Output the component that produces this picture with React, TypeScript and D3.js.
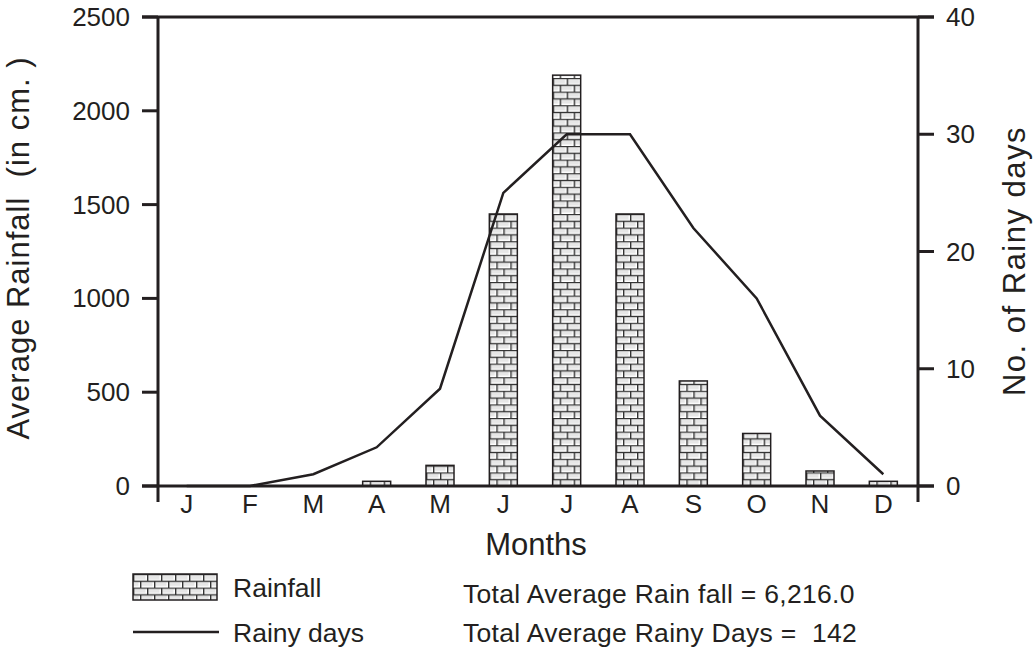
import * as d3 from "d3";

const months = ["J", "F", "M", "A", "M", "J", "J", "A", "S", "O", "N", "D"];
const rainfall = [0, 0, 0, 25, 110, 1450, 2190, 1450, 560, 280, 80, 25];
const rainyDays = [0, 0, 1, 3.3, 8.3, 25, 30, 30, 22, 16, 6, 1];
const rainTicks = [0, 500, 1000, 1500, 2000, 2500];
const dayTicks = [0, 10, 20, 30, 40];

const W = 1034;
const H = 649;
const MARGIN = { top: 17, right: 116, bottom: 163, left: 158 };
const INK = "#231f20";
const FONT = "'Liberation Sans', Arial, sans-serif";

export default function App() {
  const boundsWidth = W - MARGIN.left - MARGIN.right;
  const boundsHeight = H - MARGIN.top - MARGIN.bottom;
  const x0 = MARGIN.left;
  const x1 = MARGIN.left + boundsWidth;
  const yBottom = MARGIN.top + boundsHeight;

  const xScale = d3
    .scaleBand<number>()
    .domain(months.map((_, i) => i))
    .range([x0 - 3, x1 - 3])
    .padding(0);
  const yRain = d3.scaleLinear().domain([0, 2500]).range([yBottom, MARGIN.top]);
  const yDays = d3.scaleLinear().domain([0, 40]).range([yBottom, MARGIN.top]);

  const barW = 28;
  const cx = (i: number) => (xScale(i) ?? 0) + xScale.bandwidth() / 2;

  const line = d3
    .line<number>()
    .x((_, i) => cx(i))
    .y((d) => yDays(d));
  const linePath = line(rainyDays) ?? "";

  const brickW = 14;
  const brickH = 6.8;

  return (
    <svg
      width={W}
      height={H}
      style={{ position: "absolute", left: 0, top: 0, background: "#fff" }}
      fontFamily={FONT}
    >
      <defs>
        <pattern
          id="bricks"
          patternUnits="userSpaceOnUse"
          width={brickW}
          height={brickH * 2}
          x={0}
          y={0}
        >
          <rect width={brickW} height={brickH * 2} fill="#fff" />
          <rect x={1.5} y={1.5} width={brickW - 3} height={brickH - 3} fill="#e6e6e6" />
          <rect x={-5.5} y={brickH + 1.5} width={brickW - 3} height={brickH - 3} fill="#e6e6e6" />
          <rect x={brickW / 2 + 1.5} y={brickH + 1.5} width={brickW - 3} height={brickH - 3} fill="#e6e6e6" />
          <line x1={0} x2={brickW} y1={0.5} y2={0.5} stroke="#333" strokeWidth={1.4} />
          <line x1={0} x2={brickW} y1={brickH + 0.5} y2={brickH + 0.5} stroke="#333" strokeWidth={1.4} />
          <line x1={0.7} x2={0.7} y1={0} y2={brickH} stroke="#333" strokeWidth={1.4} />
          <line x1={brickW / 2 + 0.7} x2={brickW / 2 + 0.7} y1={brickH} y2={brickH * 2} stroke="#333" strokeWidth={1.4} />
        </pattern>
      </defs>

      {/* bars */}
      {rainfall.map((v, i) => {
        if (v <= 0) return null;
        const h = yBottom - yRain(v);
        return (
          <g key={i} transform={`translate(${cx(i) - barW / 2},${yBottom})`}>
            <rect
              x={0}
              y={-h}
              width={barW}
              height={h}
              fill="url(#bricks)"
              stroke={INK}
              strokeWidth={1.5}
            />
          </g>
        );
      })}

      {/* rainy days line */}
      <path d={linePath} fill="none" stroke={INK} strokeWidth={2.5} strokeLinejoin="miter" />

      {/* axes */}
      <line x1={x0} x2={x0} y1={MARGIN.top} y2={yBottom + 16} stroke={INK} strokeWidth={3} />
      <line x1={x1} x2={x1} y1={MARGIN.top} y2={yBottom + 16} stroke={INK} strokeWidth={3} />
      <line x1={x0 - 16} x2={x1 + 16} y1={yBottom} y2={yBottom} stroke={INK} strokeWidth={3} />
      <line x1={x0 - 16} x2={x1 + 16} y1={MARGIN.top} y2={MARGIN.top} stroke={INK} strokeWidth={3} />

      {rainTicks.map((t) => (
        <g key={`l${t}`}>
          <line x1={x0 - 16} x2={x0} y1={yRain(t)} y2={yRain(t)} stroke={INK} strokeWidth={3} />
          <text
            x={x0 - 28}
            y={yRain(t) + 9}
            textAnchor="end"
            fontSize={26}
            fill={INK}
          >
            {t}
          </text>
        </g>
      ))}
      {dayTicks.map((t) => (
        <g key={`r${t}`}>
          <line x1={x1} x2={x1 + 16} y1={yDays(t)} y2={yDays(t)} stroke={INK} strokeWidth={3} />
          <text
            x={x1 + 28}
            y={yDays(t) + 9}
            textAnchor="start"
            fontSize={26}
            fill={INK}
          >
            {t}
          </text>
        </g>
      ))}

      {months.map((m, i) => (
        <text key={i} x={cx(i)} y={yBottom + 27} textAnchor="middle" fontSize={26} fill={INK}>
          {m}
        </text>
      ))}

      {/* axis titles */}
      <text x={(x0 + x1) / 2 - 2} y={555} textAnchor="middle" fontSize={31} fill={INK}>
        Months
      </text>
      <text
        transform={`translate(29,248) rotate(-90)`}
        textAnchor="middle"
        fontSize={31}
        letterSpacing={1}
        fill={INK}
        style={{ whiteSpace: "pre" }}
      >
        {"Average Rainfall  (in cm. )"}
      </text>
      <text
        transform={`translate(1025,261) rotate(-90)`}
        textAnchor="middle"
        fontSize={31}
        letterSpacing={1.5}
        fill={INK}
      >
        No. of Rainy days
      </text>

      {/* legend */}
      <g transform="translate(133,574)">
        <rect x={0} y={0} width={84} height={26} fill="url(#bricks)" stroke={INK} strokeWidth={1.5} />
      </g>
      <text x={233} y={597} fontSize={26.5} fill={INK}>
        Rainfall
      </text>
      <line x1={133} x2={219} y1={632} y2={632} stroke={INK} strokeWidth={2.5} />
      <text x={233} y={642} fontSize={26.5} fill={INK}>
        Rainy days
      </text>
      <text x={463} y={603} fontSize={26.5} letterSpacing={0.3} fill={INK}>
        Total Average Rain fall = 6,216.0
      </text>
      <text x={463} y={642} fontSize={26.5} letterSpacing={0.3} fill={INK} style={{ whiteSpace: "pre" }}>
        {"Total Average Rainy Days =  142"}
      </text>
    </svg>
  );
}
